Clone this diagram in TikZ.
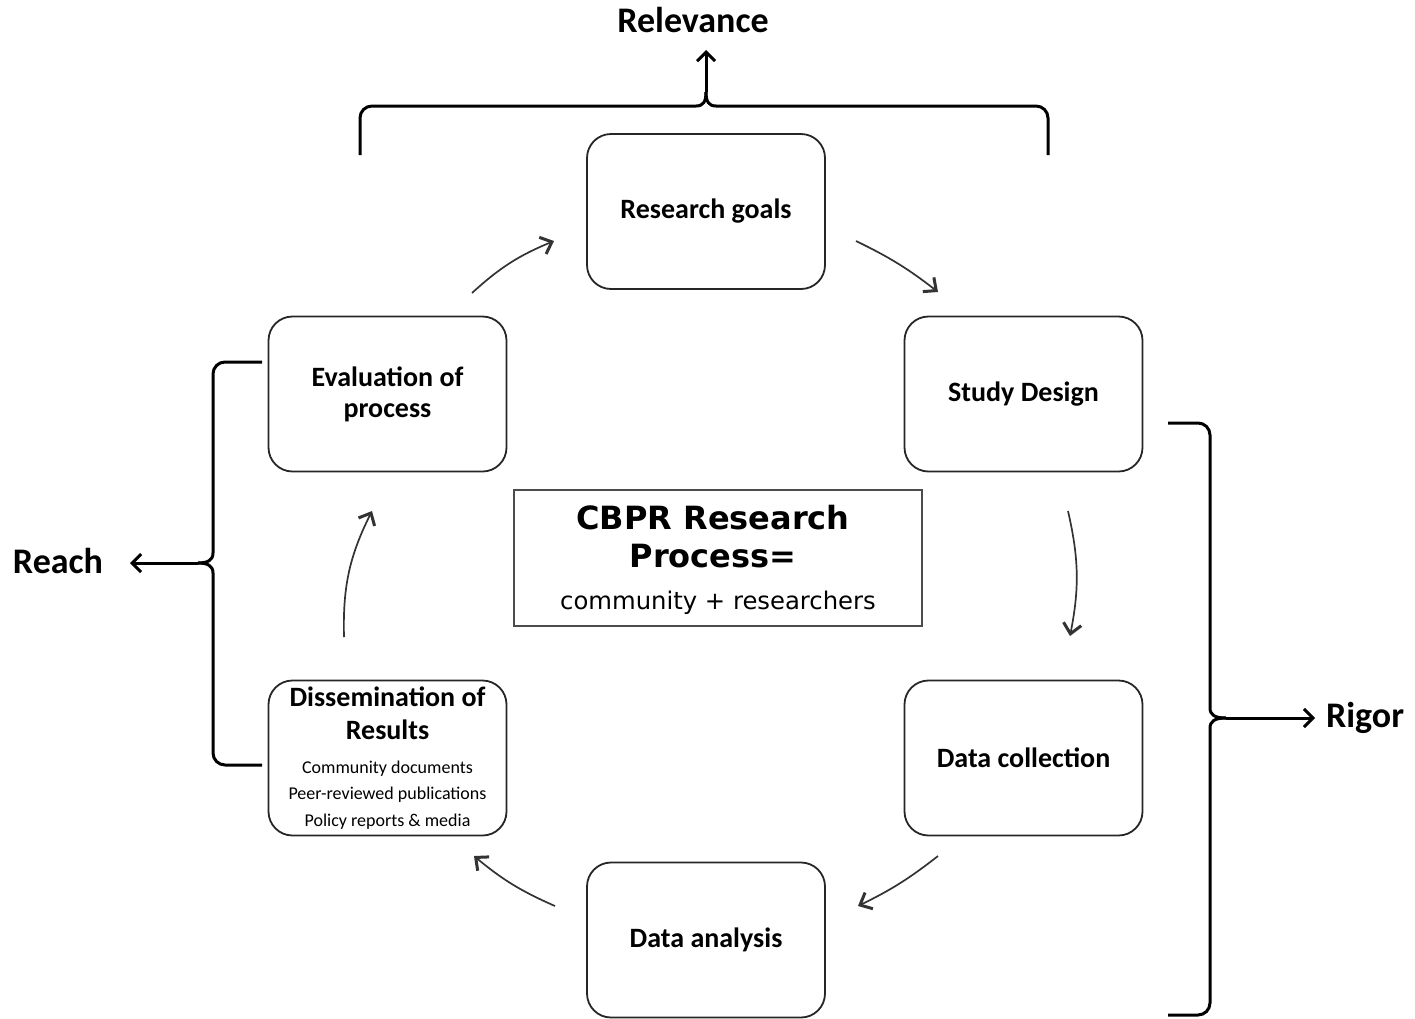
\documentclass[tikz,border=0pt]{standalone}
\usepackage{fontspec}
\setmainfont{Carlito}
\newfontfamily\verd{DejaVu Sans}
\usetikzlibrary{arrows.meta}
\begin{document}
\begin{tikzpicture}[x=1pt,y=-1pt,
  stage/.style={draw=black!85,line width=1.8pt,rounded corners=24pt,minimum width=238pt,minimum height=155pt,align=center,font=\fontsize{28}{31}\selectfont\bfseries,inner sep=0pt},
  flow/.style={draw=black!80,line width=1.7pt,-{Straight Barb[length=10pt,width=18pt,line width=3pt]}},
  brace/.style={draw=black,line width=3pt,rounded corners=12pt},
  bigarrow/.style={draw=black,line width=3pt,-{Straight Barb[length=9pt,width=18pt,line width=3pt]}},
  side/.style={font=\fontsize{36}{40}\selectfont\bfseries}]
\useasboundingbox (0,0) rectangle (1415,1018);
\fill[white] (0,0) rectangle (1415,1018);
% stages
\node[stage] (rg) at (706,211.5) {Research goals};
\node[stage] (sd) at (1023.5,394) {Study Design};
\node[stage] (ev) at (387.5,394) {Evaluation of\\process};
\node[stage,font=\fontsize{18}{26.5}\selectfont] (dis) at (387.5,758) {{\fontsize{28}{34}\selectfont\bfseries Dissemination of}\\[7pt]{\fontsize{28}{34}\selectfont\bfseries Results}\\[7pt]
 Community documents\\ Peer-reviewed publications\\ Policy reports \& media};
\node[stage] (dc) at (1023.5,758) {Data collection};
\node[stage] (da) at (706,940) {Data analysis};
% center
\node[draw=black!70,line width=1.3pt,minimum width=408pt,minimum height=136pt,inner sep=0pt] (cb) at (718,558) {};
\node[font=\verd\bfseries\fontsize{32}{38}\selectfont,align=center] (cbt) at (713,537) {CBPR Research\\Process=};
\node[font=\verd\fontsize{24.3}{28}\selectfont] (cbs) at (718,603) {community + researchers};
% flow arrows
\coordinate (a1s) at (472,293); \coordinate (a1e) at (554,241);
\coordinate (a2s) at (856,241); \coordinate (a2e) at (938,292);
\coordinate (a3s) at (1068,511); \coordinate (a3e) at (1070,636);
\coordinate (a4s) at (938,856); \coordinate (a4e) at (858,906);
\coordinate (a5s) at (555,906); \coordinate (a5e) at (474,856);
\coordinate (a6s) at (344,637); \coordinate (a6e) at (372,511);
\draw[flow] (a1s) to[bend left=10] (a1e);
\draw[flow] (a2s) to[bend left=6] (a2e);
\draw[flow] (a3s) to[bend left=12] (a3e);
\draw[flow] (a4s) to[bend left=6] (a4e);
\draw[flow] (a5s) to[bend left=8] (a5e);
\draw[flow] (a6s) to[bend left=14] (a6e);
% top brace
\coordinate (tL) at (360,155); \coordinate (tR) at (1048,155);
\coordinate (tC) at (706,92); \coordinate (tA) at (706,50);
\draw[brace] (tL) -- (360,106) -- (680,106) [sharp corners] -- (696,106) .. controls (703,106) and (706,102) .. (tC);
\draw[brace] (tR) -- (1048,106) -- (732,106) [sharp corners] -- (716,106) .. controls (709,106) and (706,102) .. (tC);
\draw[bigarrow] (tC) -- (tA);
\node[side] (rel) at (693,20) {Relevance};
% left brace
\coordinate (lT) at (262,362); \coordinate (lB) at (262,765);
\coordinate (lC) at (198,563); \coordinate (lA) at (130,563);
\draw[brace] (lT) -- (213,362) -- (213,540) [sharp corners] -- (213,553) .. controls (213,560) and (208,563) .. (lC);
\draw[brace] (lB) -- (213,765) -- (213,586) [sharp corners] -- (213,573) .. controls (213,566) and (208,563) .. (lC);
\draw[bigarrow] (lC) -- (lA);
\node[side] (reach) at (58,561) {Reach};
% right brace
\coordinate (rT) at (1168,423); \coordinate (rB) at (1168,1015);
\coordinate (rC) at (1226,718); \coordinate (rA) at (1315,718);
\draw[brace] (rT) -- (1210,423) -- (1210,695) [sharp corners] -- (1210,708) .. controls (1210,715) and (1215,718) .. (rC);
\draw[brace] (rB) -- (1210,1015) -- (1210,741) [sharp corners] -- (1210,728) .. controls (1210,721) and (1215,718) .. (rC);
\draw[bigarrow] (rC) -- (rA);
\node[side] (rigor) at (1365,718) {Rigor};
\end{tikzpicture}
\end{document}
